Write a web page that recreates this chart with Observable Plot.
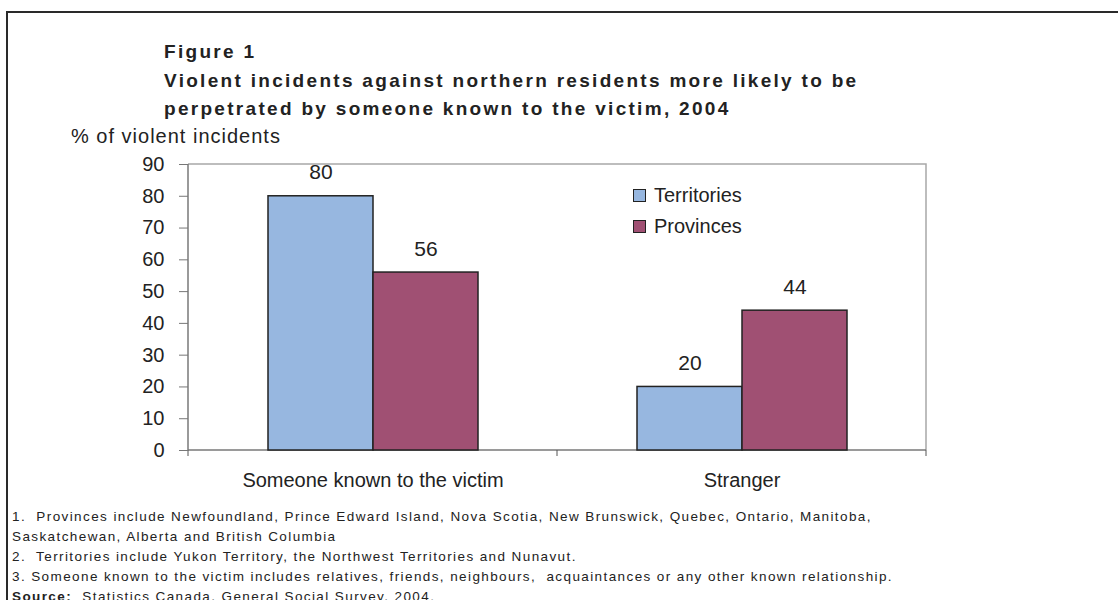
<!DOCTYPE html>
<html><head><meta charset="utf-8">
<script src="https://cdn.jsdelivr.net/npm/d3@7"></script>
<script src="https://cdn.jsdelivr.net/npm/@observablehq/plot@0.6"></script>
<style>
body{margin:0;background:#fff;font-family:"Liberation Sans",Arial,sans-serif;color:#222;}
#wrap{position:relative;width:1118px;height:600px;overflow:hidden;}
.border{position:absolute;left:6px;top:11px;width:1300px;height:800px;border-top:2px solid #2a2a2a;border-left:2px solid #2a2a2a;}
#title{position:absolute;left:164px;top:38px;font-weight:bold;font-size:19px;line-height:28.5px;letter-spacing:2.3px;white-space:nowrap;}
#ylabel{position:absolute;left:71px;top:125px;font-size:20px;line-height:22px;letter-spacing:1px;white-space:nowrap;}
#chart{position:absolute;left:0;top:150px;}
#legend{position:absolute;left:633px;top:180px;font-size:20px;line-height:31px;}
#legend .row{display:flex;align-items:center;white-space:nowrap;}
#legend .sw{width:11px;height:11px;border:1.5px solid #222;margin-right:8px;}
#notes{position:absolute;left:12px;top:507px;font-size:13.5px;line-height:20px;letter-spacing:1.4px;white-space:pre;}
</style></head><body>
<div id="wrap">
  <div class="border"></div>
  <div id="title"></div>
  <div id="ylabel"></div>
  <div id="chart"></div>
  <div id="legend"></div>
  <div id="notes"></div>
</div>
<script>
const titleLines = [
  "Figure 1",
  "Violent incidents against northern residents more likely to be",
  "perpetrated by someone known to the victim, 2004"
];
const yLabel = "% of violent incidents";
const categories = ["Someone known to the victim", "Stranger"];
const series = ["Territories", "Provinces"];
const territoriesValues = [80, 20];
const provincesValues = [56, 44];
const seriesColors = ["#97b7e0", "#a05073"];
const yTicks = [0, 10, 20, 30, 40, 50, 60, 70, 80, 90];
const footnotes = [
  "1.  Provinces include Newfoundland, Prince Edward Island, Nova Scotia, New Brunswick, Quebec, Ontario, Manitoba,",
  "Saskatchewan, Alberta and British Columbia",
  "2.  Territories include Yukon Territory, the Northwest Territories and Nunavut.",
  "3. Someone known to the victim includes relatives, friends, neighbours,  acquaintances or any other known relationship."
];
const sourceLabel = "Source:";
const sourceText = "  Statistics Canada, General Social Survey, 2004.";

const data = categories.flatMap((c, i) => [
  {category: c, series: series[0], value: territoriesValues[i]},
  {category: c, series: series[1], value: provincesValues[i]}
]);

document.getElementById("title").innerHTML = titleLines.map(t => `<div>${t}</div>`).join("");
document.getElementById("ylabel").textContent = yLabel;
document.getElementById("legend").innerHTML = series.map((s, i) =>
  `<div class="row"><span class="sw" style="background:${seriesColors[i]}"></span><span>${s}</span></div>`).join("");
document.getElementById("notes").innerHTML = footnotes.map(t => `<div>${t}</div>`).join("") +
  `<div><b>${sourceLabel}</b>${sourceText}</div>`;

const frameMark = Plot.frame({
  facet: "super",
  stroke: "none",
  render: (index, scales, values, dims) => {
    const {width, height, marginLeft, marginRight, marginTop, marginBottom} = dims;
    const x0 = marginLeft, x1 = width - marginRight, y0 = marginTop, y1 = height - marginBottom;
    const n = categories.length;
    const fx = scales.fx;
    const edges = (fx && fx.bandwidth)
      ? [...categories.map(c => fx(c)), fx(categories[n - 1]) + fx.bandwidth()]
      : d3.range(n + 1).map(i => x0 + (x1 - x0) * i / n);
    const g = d3.create("svg:g").attr("fill", "none");
    g.append("path").attr("stroke", "#a8a8a8").attr("stroke-width", 1.5)
      .attr("d", `M${x0},${y0}H${x1}V${y1}`);
    g.append("path").attr("stroke", "#7a7a7a").attr("stroke-width", 1.5)
      .attr("d", `M${x0},${y0}V${y1}H${x1}`);
    g.append("path").attr("stroke", "#555").attr("stroke-width", 1)
      .attr("d", edges.map(e => `M${e},${y1}v6`).join(""));
    return g.node();
  }
});

const chart = Plot.plot({
  width: 1118,
  height: 350,
  marginLeft: 187,
  marginRight: 192,
  marginTop: 14,
  marginBottom: 50,
  style: {fontFamily: "Liberation Sans, Arial, sans-serif", color: "#222", background: "transparent", overflow: "visible"},
  fx: {domain: categories, padding: 0},
  x: {domain: series, paddingInner: 0, paddingOuter: 0.75, axis: null},
  y: {domain: [0, 90]},
  color: {domain: series, range: seriesColors},
  marks: [
    frameMark,
    Plot.barY(data, {fx: "category", x: "series", y: "value", fill: "series", stroke: "#222", strokeWidth: 1.5}),
    Plot.text(data, {fx: "category", x: "series", y: "value", text: d => String(d.value), dy: -17, lineAnchor: "bottom", fontSize: 21, fill: "#222"}),
    Plot.axisY({ticks: yTicks, tickSize: 9, tickPadding: 15, fontSize: 20, label: null, stroke: "#777", fill: "#222"}),
    Plot.axisFx({anchor: "bottom", tickSize: 0, tickPadding: 22, fontSize: 20, label: null, fill: "#222", style: {letterSpacing: "0.6px"}})
  ]
});
document.getElementById("chart").appendChild(chart);
</script>
</body></html>
